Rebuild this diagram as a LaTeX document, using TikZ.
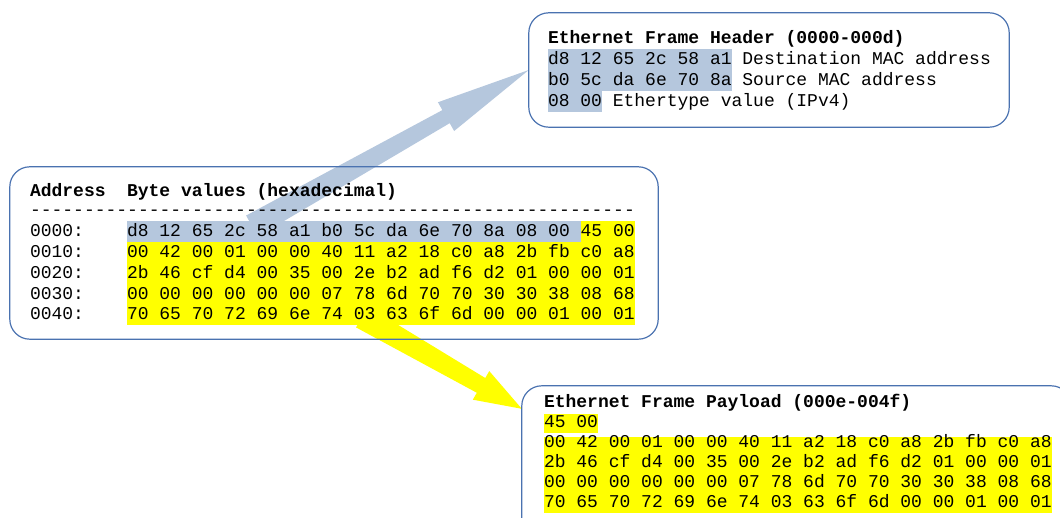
\documentclass[tikz,border=0pt]{standalone}
\usepackage{fontspec}
\setmonofont{Liberation Mono}
\usetikzlibrary{calc}
\frenchspacing

\definecolor{hlblue}{RGB}{181,199,221}
\definecolor{hlyellow}{RGB}{255,255,0}
\definecolor{framecol}{RGB}{74,114,176}

% block arrow: #1 tail, #2 tip, #3 colour, #4 head length,
% #5 tail half width, #6 neck half width, #7 barb half width
\newcommand\blockarrow[7]{%
  \path ($(#2)!#4!(#1)$) coordinate (neck);
  \fill[#3] ($(#1)!#5!90:(#2)$) -- ($(neck)!#6!90:(#2)$)
    -- ($(neck)!#7!90:(#2)$) -- (#2) -- ($(neck)!#7!-90:(#2)$)
    -- ($(neck)!#6!-90:(#2)$) -- ($(#1)!#5!-90:(#2)$) -- cycle;
}

\begin{document}
\begin{tikzpicture}[x=1pt,y=-1pt,
  hex/.style={font=\ttfamily\fontsize{18}{21}\selectfont, anchor=base west,
    inner sep=0pt, outer sep=0pt},
  hexbold/.style={hex, font=\ttfamily\bfseries\fontsize{18}{21}\selectfont},
  panel/.style={draw=framecol, line width=1.2pt, rounded corners=20pt,
    inner sep=0pt, outer sep=0pt},
  hlb/.style={fill=hlblue},
  hly/.style={fill=hlyellow}]
\useasboundingbox (0,0) rectangle (1060,518);

% frames (placed first so that the arrows can refer to them)
\path node[minimum width=648pt, minimum height=172pt] (mainbox) at (334,253) {};
\path node[minimum width=480pt, minimum height=114pt] (hdrbox) at (769,70) {};
\path node[minimum width=549pt, minimum height=159pt] (paybox) at (796.5,465.5) {};

% arrows
\coordinate (btail) at (252,226);
\coordinate (ytail) at (362,317);
\coordinate (ytip) at ($(paybox.north west)+(0,23)$);
\blockarrow{btail}{hdrbox.west}{hlblue}{95pt}{12pt}{7.5pt}{16.5pt}
\blockarrow{ytail}{ytip}{hlyellow}{47pt}{12pt}{8.5pt}{16.5pt}

% highlights of the dump
\fill[hlb] (127,221) rectangle (580.6,241.7);
\fill[hly] (580.6,221) rectangle (634.6,241.7);
\fill[hly] (127,241.7) rectangle (634.6,325);
% highlights of the header
\fill[hlb] (548,49) rectangle (731.6,91);
\fill[hlb] (548,91) rectangle (602,112);
% highlights of the payload
\fill[hly] (544,414) rectangle (598,433);
\fill[hly] (544,436.5) rectangle (1051.6,512.5);

% frames
\draw[panel] (mainbox.north west) rectangle (mainbox.south east);
\draw[panel] (hdrbox.north west) rectangle (hdrbox.south east);
\draw[panel] (paybox.north west) rectangle (paybox.south east);

% dump text
\node[hexbold] (addrhd) at (30,196.5) {Address};
\node[hexbold] (bytehd) at (127,196.5) {Byte values (hexadecimal)};
\node[hex] (rule) at (30,216) {\foreach \i in {1,...,56}{-\kern0pt}};
\node[hex] (a0) at (30,237) {0000:};
\node[hex] (a1) at (30,257.7) {0010:};
\node[hex] (a2) at (30,278.4) {0020:};
\node[hex] (a3) at (30,299.1) {0030:};
\node[hex] (a4) at (30,319.8) {0040:};
\node[hex] (r0) at (127,237) {d8 12 65 2c 58 a1 b0 5c da 6e 70 8a 08 00 45 00};
\node[hex] (r1) at (127,257.7) {00 42 00 01 00 00 40 11 a2 18 c0 a8 2b fb c0 a8};
\node[hex] (r2) at (127,278.4) {2b 46 cf d4 00 35 00 2e b2 ad f6 d2 01 00 00 01};
\node[hex] (r3) at (127,299.1) {00 00 00 00 00 00 07 78 6d 70 70 30 30 38 08 68};
\node[hex] (r4) at (127,319.8) {70 65 70 72 69 6e 74 03 63 6f 6d 00 00 01 00 01};

% header text
\node[hexbold] (hdrtitle) at (548,43.5) {Ethernet Frame Header (0000-000d)};
\node[hex] (h1) at (548,64.5) {d8 12 65 2c 58 a1 Destination MAC address};
\node[hex] (h2) at (548,85.5) {b0 5c da 6e 70 8a Source MAC address};
\node[hex] (h3) at (548,106.5) {08 00 Ethertype value (IPv4)};

% payload text
\node[hexbold] (paytitle) at (544,407.5) {Ethernet Frame Payload (000e-004f)};
\node[hex] (p0) at (544,427.5) {45 00};
\node[hex] (p1) at (544,447.5) {00 42 00 01 00 00 40 11 a2 18 c0 a8 2b fb c0 a8};
\node[hex] (p2) at (544,467.5) {2b 46 cf d4 00 35 00 2e b2 ad f6 d2 01 00 00 01};
\node[hex] (p3) at (544,487.5) {00 00 00 00 00 00 07 78 6d 70 70 30 30 38 08 68};
\node[hex] (p4) at (544,507.5) {70 65 70 72 69 6e 74 03 63 6f 6d 00 00 01 00 01};
\end{tikzpicture}
\end{document}
